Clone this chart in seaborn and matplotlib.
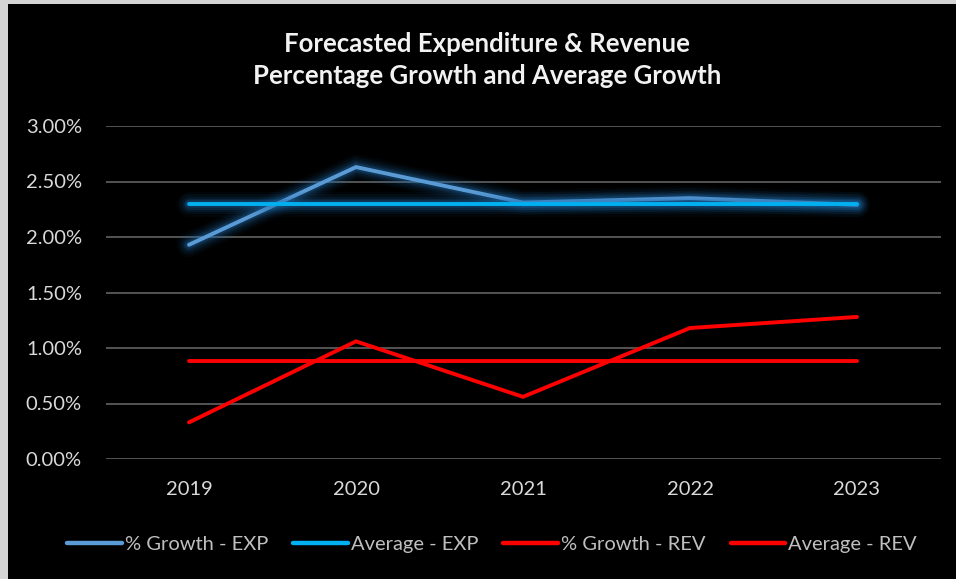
import pandas as pd
import matplotlib.pyplot as plt
import matplotlib.patheffects as pe
from matplotlib.patches import Rectangle
from matplotlib.ticker import PercentFormatter
import seaborn as sns

# Chart data (percent)
years = [2019, 2020, 2021, 2022, 2023]
growth_exp = [1.93, 2.63, 2.31, 2.35, 2.29]
average_exp = [2.30, 2.30, 2.30, 2.30, 2.30]
growth_rev = [0.33, 1.06, 0.56, 1.18, 1.28]
average_rev = [0.88, 0.88, 0.88, 0.88, 0.88]

series_names = ['% Growth - EXP', 'Average - EXP', '% Growth - REV', 'Average - REV']
series_values = [growth_exp, average_exp, growth_rev, average_rev]
series_colors = ['#5b9bd5', '#00b0f0', '#ff0000', '#ff0000']

df = pd.concat(
    [pd.DataFrame({'Year': years, 'Value': vals, 'Series': name})
     for name, vals in zip(series_names, series_values)],
    ignore_index=True)

sns.set_theme(style='dark')
plt.rcParams['font.family'] = ['Lato', 'DejaVu Sans']

fig = plt.figure(figsize=(9.56, 5.79), dpi=100, facecolor='black')
# light grey frame strip on the left and top edges
fig.patches.append(Rectangle((0, 0), 8 / 956, 1, transform=fig.transFigure,
                             facecolor='#d4d4d4', edgecolor='none', zorder=-1))
fig.patches.append(Rectangle((0, 1 - 4 / 579), 1, 4 / 579, transform=fig.transFigure,
                             facecolor='#d4d4d4', edgecolor='none', zorder=-1))
ax = fig.add_axes([105.5 / 956, 1 - 459 / 579, 835 / 956, (459 - 126) / 579])
ax.set_facecolor('black')

# soft blue glow around the expenditure lines
glow = [pe.Stroke(linewidth=w, foreground='#1f6fb0', alpha=a)
        for w, a in [(18, 0.05), (14.5, 0.08), (11, 0.11), (8, 0.16), (5.5, 0.22)]]
glow.append(pe.Normal())

for name, color in zip(series_names, series_colors):
    sub = df[df['Series'] == name]
    sns.lineplot(data=sub, x='Year', y='Value', ax=ax, color=color, linewidth=2.8,
                 label=name, solid_capstyle='round', solid_joinstyle='miter')

for line in ax.lines[:2]:
    line.set_path_effects(glow)

ax.set_xlim(2018.5, 2023.5)
ax.set_ylim(0, 3.0)
ax.set_yticks([0, 0.5, 1.0, 1.5, 2.0, 2.5, 3.0])
ax.yaxis.set_major_formatter(PercentFormatter(decimals=2))
ax.set_xticks(years)
ax.set_xticklabels([str(y) for y in years])
ax.grid(axis='y', color='#5a5a5a', linewidth=1.3)
ax.grid(axis='x', visible=False)
for s in ax.spines.values():
    s.set_visible(False)
ax.tick_params(axis='both', colors='#d9d9d9', labelsize=14.5, length=0)
ax.tick_params(axis='y', pad=17)
ax.tick_params(axis='x', pad=16)
ax.set_xlabel('')
ax.set_ylabel('')
ax.set_axisbelow(True)

fig.text(487 / 956, 1 - 44 / 579, 'Forecasted Expenditure & Revenue',
         ha='center', va='center', color='#f2f2f2', fontsize=18.5, fontweight='bold')
fig.text(487 / 956, 1 - 76 / 579, 'Percentage Growth and Average Growth',
         ha='center', va='center', color='#f2f2f2', fontsize=18.5, fontweight='bold')

leg = ax.legend(loc='center', bbox_to_anchor=(492 / 956, 1 - 544 / 579),
                bbox_transform=fig.transFigure, ncol=4, frameon=False,
                fontsize=14.5, handlelength=2.7, handletextpad=0.15, columnspacing=1.25)
for text in leg.get_texts():
    text.set_color('#bfbfbf')
for h in leg.legend_handles:
    h.set_linewidth(3.2)
    h.set_path_effects([])

fig.savefig('out.png', dpi=100, facecolor=fig.get_facecolor())
